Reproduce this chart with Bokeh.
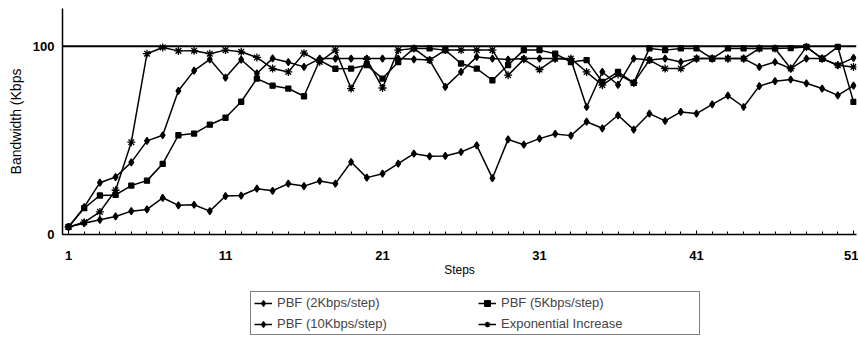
from bokeh.plotting import figure
from bokeh.layouts import column
from bokeh.models import Range1d, FixedTicker, Span, Legend, LegendItem
from bokeh.embed import file_html
from bokeh.resources import INLINE

steps = list(range(1, 52))

pbf_2k = [4, 6, 7.8, 9.6, 12.4, 13.3, 19.5, 15.5, 15.8, 12.4,
          20.4, 20.7, 24.3, 23.2, 27, 25.7, 28.4, 27, 38.5, 30.2,
          32.3, 37.6, 42.9, 41.5, 41.7, 43.8, 47.3, 29.9, 50.5, 47.7,
          50.9, 53.4, 52.5, 59.9, 56.4, 63.3, 55.7, 64.2, 60.3, 65.1,
          64.2, 69.1, 73.7, 67.7, 78.8, 81.4, 82.3, 80.3, 77.5, 73.9,
          79.1]

pbf_5k = [4, 14, 20.7, 21, 26, 28.6, 37.5, 52.7, 53.6, 58.3,
          62, 70.5, 82.8, 79, 77.5, 73.4, 92.5, 88, 88.1, 89.9,
          82.8, 91.6, 98.8, 98.8, 97.9, 90.8, 88.1, 81.9, 90, 97.9,
          97.9, 96, 91.6, 92.6, 81, 86.3, 80.5, 98.8, 97.9, 98.8,
          98.8, 93.4, 98.8, 98.8, 98.8, 98.8, 99, 99.6, 93.4, 99.6,
          70.4]

pbf_10k = [4, 14.5, 27.5, 30.5, 38.3, 49.7, 52.7, 76.3, 87, 93,
           83.3, 92.8, 85.5, 93.5, 91.5, 89, 93.4, 93.4, 93.4, 93.4,
           93.4, 93.4, 93, 92.6, 78.4, 86.3, 94.3, 93.4, 92.9, 93.4,
           93.4, 93.4, 92.9, 67.7, 86.3, 79.5, 93.4, 92.6, 93.4, 91.6,
           93.4, 93.4, 93.4, 93.4, 89, 91.6, 88.1, 93.4, 93.4, 89.9,
           93.8]

exp_inc = [4, 6.5, 12, 23.5, 49, 96, 99.3, 97.5, 97.6, 96,
           97.9, 97, 94, 88.1, 86.3, 96.3, 91.6, 97.9, 77.5, 93,
           77.8, 97.9, 98.8, 92.6, 97.9, 97.9, 97.9, 97.9, 84.6, 93,
           87.6, 93.4, 93.4, 86.3, 79.3, 85, 80.5, 92.6, 88.1, 88.1,
           93.4, 93.4, 93.4, 93.4, 98.8, 98.8, 88.1, 99.6, 93.4, 89.9,
           89]

capacity = 100
x_ticks = [1, 11, 21, 31, 41, 51]
y_ticks = [0, 100]

FONT = "Liberation Sans"

p = figure(width=858, height=286, output_backend="svg", toolbar_location=None,
           x_range=Range1d(0.618, 51.19), y_range=Range1d(0, 120),
           min_border_left=62, min_border_right=2, min_border_top=8, min_border_bottom=52)
p.outline_line_color = None
p.xgrid.visible = False
p.ygrid.visible = False
p.background_fill_color = "white"

p.xaxis.ticker = FixedTicker(ticks=x_ticks, minor_ticks=steps)
p.yaxis.ticker = FixedTicker(ticks=y_ticks, minor_ticks=[])
for ax in (p.xaxis[0], p.yaxis[0]):
    ax.axis_line_color = "black"
    ax.axis_line_width = 1.5
    ax.major_tick_in = 4
    ax.major_tick_out = 0
    ax.minor_tick_in = 3
    ax.minor_tick_out = 0
    ax.major_label_text_font = FONT
    ax.major_label_text_font_size = "13px"
    ax.major_label_text_font_style = "bold"
    ax.major_label_text_color = "black"
    ax.axis_label_text_font = FONT
    ax.axis_label_text_font_style = "normal"
    ax.axis_label_text_color = "black"

p.xaxis.axis_label = "Steps"
p.xaxis.axis_label_text_font_size = "12px"
p.xaxis.major_label_standoff = 16
p.xaxis.axis_label_standoff = 0
p.yaxis.axis_label = "Bandwidth (Kbps"
p.yaxis.axis_label_text_font_size = "14px"
p.yaxis.major_label_standoff = 8
p.yaxis.axis_label_standoff = 6

p.add_layout(Span(location=capacity, dimension="width", line_color="black", line_width=2))

series = [
    ("PBF (2Kbps/step)", pbf_2k, "diamond", 7),
    ("PBF (5Kbps/step)", pbf_5k, "square", 5),
    ("PBF (10Kbps/step)", pbf_10k, "diamond", 7),
    ("Exponential Increase", exp_inc, "asterisk", 8),
]

# Legend strip below the chart; its ranges keep the series out of view,
# so only the legend shows.
leg = figure(width=858, height=68, output_backend="svg", toolbar_location=None,
             x_axis_type=None, y_axis_type=None,
             x_range=Range1d(-2, -1), y_range=Range1d(-2, -1),
             min_border_left=0, min_border_right=0, min_border_top=0, min_border_bottom=0)
leg.outline_line_color = None
leg.xgrid.visible = False
leg.ygrid.visible = False

items = {}
for label, ys, marker, size in series:
    p.line(steps, ys, line_color="black", line_width=1.5)
    p.scatter(steps, ys, marker=marker, size=size, fill_color="black",
              line_color="black", line_width=1.3)
    ln = leg.line(steps, ys, line_color="black", line_width=1.5)
    sc = leg.scatter(steps, ys, marker=marker, size=size, fill_color="black",
                     line_color="black", line_width=1.3)
    items[label] = LegendItem(label=label, renderers=[ln, sc])

legend_order = ["PBF (2Kbps/step)", "PBF (10Kbps/step)", "PBF (5Kbps/step)", "Exponential Increase"]
legend = Legend(items=[items[k] for k in legend_order], ncols=2, location=(188, 19),
                label_text_font=FONT, label_text_font_size="13px",
                glyph_width=18, glyph_height=14, label_standoff=5, label_width=195,
                spacing=6, padding=3, margin=0,
                border_line_color="black", border_line_width=1,
                background_fill_alpha=1)
leg.add_layout(legend)

layout = column(p, leg, spacing=0)
open("out.html", "w").write(file_html(layout, INLINE))
